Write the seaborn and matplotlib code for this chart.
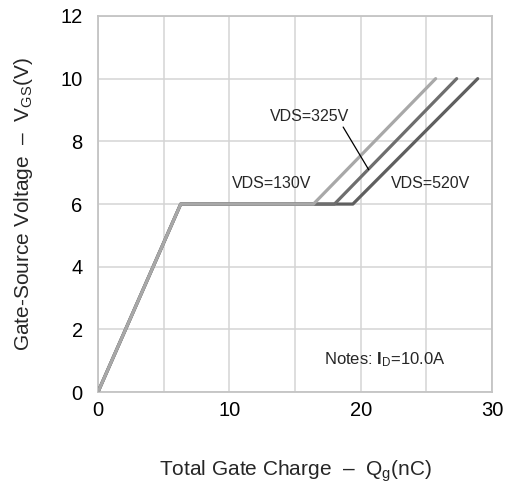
import numpy as np
import pandas as pd
import matplotlib
matplotlib.use("Agg")
import matplotlib.pyplot as plt
import seaborn as sns

# ---- data ----
series_names = ["VDS=520V", "VDS=325V", "VDS=130V"]
qg_520 = [0.0, 6.3, 19.4, 28.9]
vgs_520 = [0.0, 6.0, 6.0, 10.0]
qg_325 = [0.0, 6.3, 18.0, 27.3]
vgs_325 = [0.0, 6.0, 6.0, 10.0]
qg_130 = [0.0, 6.3, 16.4, 25.7]
vgs_130 = [0.0, 6.0, 6.0, 10.0]
x_ticks = [0, 10, 20, 30]
y_ticks = [0, 2, 4, 6, 8, 10, 12]

rows = []
for name, xs, ys in zip(series_names, [qg_520, qg_325, qg_130], [vgs_520, vgs_325, vgs_130]):
    for i, (x, y) in enumerate(zip(xs, ys)):
        rows.append({"series": name, "order": i, "Qg": x, "VGS": y})
df = pd.DataFrame(rows)

sns.set_theme(style="white")
plt.rcParams["font.family"] = ["Liberation Sans", "DejaVu Sans"]
plt.rcParams["mathtext.fontset"] = "custom"
plt.rcParams["mathtext.rm"] = "Liberation Sans"
plt.rcParams["mathtext.it"] = "Liberation Sans"
plt.rcParams["mathtext.bf"] = "Liberation Sans:bold"

fig = plt.figure(figsize=(5.10, 4.83), dpi=100)
ax = fig.add_axes([0.192, 0.188, 0.773, 0.779])

palette = {"VDS=520V": "#5f5f5f", "VDS=325V": "#6e6e6e", "VDS=130V": "#a8a8a8"}
sns.lineplot(data=df, x="Qg", y="VGS", hue="series", hue_order=series_names,
             palette=palette, sort=False, estimator=None, units="series",
             linewidth=2.3, legend=False, ax=ax, zorder=3)

ax.set_xlim(0, 30)
ax.set_ylim(0, 12)
ax.set_xticks(x_ticks)
ax.set_xticks([5, 15, 25], minor=True)
ax.set_yticks(y_ticks)
ax.grid(True, which="both", color="#d4d4d4", linewidth=1.1, zorder=0)
ax.set_axisbelow(True)
for s in ax.spines.values():
    s.set_color("#c4c4c4")
    s.set_linewidth(1.3)
ax.tick_params(axis="both", which="both", length=0, labelsize=14.5, colors="black")
ax.tick_params(axis="x", pad=6)
ax.tick_params(axis="y", pad=11)

ax.set_xlabel("Total Gate Charge  –  Q$_{\\mathrm{g}}$(nC)", fontsize=15, labelpad=28)
ax.set_ylabel("Gate-Source Voltage  –  V$_{\\mathrm{GS}}$(V)", fontsize=15, labelpad=18)

ax.text(13.25, 6.65, "VDS=130V", fontsize=11.5, ha="center", va="center")
ax.text(25.3, 6.65, "VDS=520V", fontsize=11.5, ha="center", va="center")
ax.annotate("VDS=325V", xy=(20.6, 7.1), xytext=(16.1, 8.8), fontsize=11.5,
            ha="center", va="center",
            arrowprops=dict(arrowstyle="-", color="black", lw=0.9,
                            shrinkA=0, shrinkB=0, relpos=(0.9, 0.0)))
ax.text(21.8, 1.05, "Notes: $\\mathbf{I}_{\\mathrm{D}}$=10.0A", fontsize=12,
        ha="center", va="center")

fig.savefig("out.png", dpi=100)
